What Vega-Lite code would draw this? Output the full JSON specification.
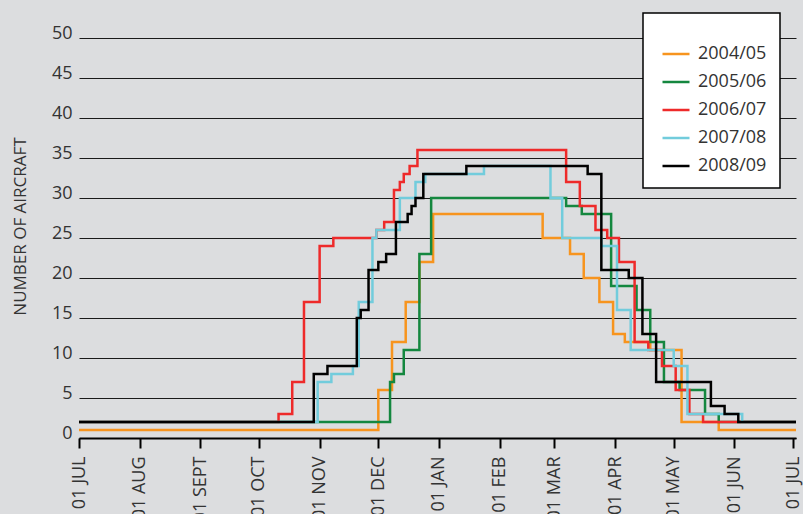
{
  "$schema": "https://vega.github.io/schema/vega-lite/v6.json",
  "width": 717,
  "height": 400,
  "autosize": {"type": "none"},
  "padding": {"left": 79, "top": 38, "right": 7, "bottom": 76},
  "background": "#dcdddf",
  "config": {
    "font": "Open Sans",
    "view": {"stroke": null},
    "legend": {"strokeWidth": 1.5}
  },
  "datasets": {
    "seasons": [
      {"season": "2004/05", "date": "2008-07-01", "n": 1},
      {"season": "2004/05", "date": "2008-12-01", "n": 6},
      {"season": "2004/05", "date": "2008-12-08", "n": 12},
      {"season": "2004/05", "date": "2008-12-15", "n": 17},
      {"season": "2004/05", "date": "2008-12-22", "n": 22},
      {"season": "2004/05", "date": "2008-12-29", "n": 28},
      {"season": "2004/05", "date": "2009-02-23", "n": 25},
      {"season": "2004/05", "date": "2009-03-09", "n": 23},
      {"season": "2004/05", "date": "2009-03-16", "n": 20},
      {"season": "2004/05", "date": "2009-03-24", "n": 17},
      {"season": "2004/05", "date": "2009-03-31", "n": 13},
      {"season": "2004/05", "date": "2009-04-06", "n": 12},
      {"season": "2004/05", "date": "2009-04-19", "n": 11},
      {"season": "2004/05", "date": "2009-05-05", "n": 2},
      {"season": "2004/05", "date": "2009-05-24", "n": 1},
      {"season": "2004/05", "date": "2009-07-02T12:00:00Z", "n": 1},

      {"season": "2005/06", "date": "2008-07-01", "n": 2},
      {"season": "2005/06", "date": "2008-12-07", "n": 7},
      {"season": "2005/06", "date": "2008-12-09", "n": 8},
      {"season": "2005/06", "date": "2008-12-14", "n": 11},
      {"season": "2005/06", "date": "2008-12-22", "n": 23},
      {"season": "2005/06", "date": "2008-12-28", "n": 30},
      {"season": "2005/06", "date": "2009-03-07", "n": 29},
      {"season": "2005/06", "date": "2009-03-15", "n": 28},
      {"season": "2005/06", "date": "2009-03-30", "n": 19},
      {"season": "2005/06", "date": "2009-04-12", "n": 16},
      {"season": "2005/06", "date": "2009-04-19", "n": 12},
      {"season": "2005/06", "date": "2009-04-26", "n": 7},
      {"season": "2005/06", "date": "2009-05-04", "n": 6},
      {"season": "2005/06", "date": "2009-05-17", "n": 3},
      {"season": "2005/06", "date": "2009-05-24", "n": 2},
      {"season": "2005/06", "date": "2009-07-02T12:00:00Z", "n": 2},

      {"season": "2006/07", "date": "2008-07-01", "n": 2},
      {"season": "2006/07", "date": "2008-10-11", "n": 3},
      {"season": "2006/07", "date": "2008-10-18", "n": 7},
      {"season": "2006/07", "date": "2008-10-24", "n": 17},
      {"season": "2006/07", "date": "2008-11-01", "n": 24},
      {"season": "2006/07", "date": "2008-11-08", "n": 25},
      {"season": "2006/07", "date": "2008-11-30", "n": 26},
      {"season": "2006/07", "date": "2008-12-04", "n": 27},
      {"season": "2006/07", "date": "2008-12-09", "n": 31},
      {"season": "2006/07", "date": "2008-12-12", "n": 32},
      {"season": "2006/07", "date": "2008-12-14", "n": 33},
      {"season": "2006/07", "date": "2008-12-17", "n": 34},
      {"season": "2006/07", "date": "2008-12-21", "n": 36},
      {"season": "2006/07", "date": "2009-03-07", "n": 32},
      {"season": "2006/07", "date": "2009-03-14", "n": 29},
      {"season": "2006/07", "date": "2009-03-22", "n": 26},
      {"season": "2006/07", "date": "2009-03-28", "n": 25},
      {"season": "2006/07", "date": "2009-04-03", "n": 22},
      {"season": "2006/07", "date": "2009-04-11", "n": 12},
      {"season": "2006/07", "date": "2009-04-18", "n": 11},
      {"season": "2006/07", "date": "2009-04-25", "n": 9},
      {"season": "2006/07", "date": "2009-05-02", "n": 6},
      {"season": "2006/07", "date": "2009-05-09", "n": 3},
      {"season": "2006/07", "date": "2009-05-16", "n": 2},
      {"season": "2006/07", "date": "2009-07-02T12:00:00Z", "n": 2},

      {"season": "2007/08", "date": "2008-07-01", "n": 2},
      {"season": "2007/08", "date": "2008-10-31", "n": 7},
      {"season": "2007/08", "date": "2008-11-07", "n": 8},
      {"season": "2007/08", "date": "2008-11-18", "n": 9},
      {"season": "2007/08", "date": "2008-11-21", "n": 17},
      {"season": "2007/08", "date": "2008-11-28", "n": 25},
      {"season": "2007/08", "date": "2008-11-30", "n": 26},
      {"season": "2007/08", "date": "2008-12-12", "n": 30},
      {"season": "2007/08", "date": "2008-12-20", "n": 32},
      {"season": "2007/08", "date": "2008-12-25", "n": 33},
      {"season": "2007/08", "date": "2009-01-24", "n": 34},
      {"season": "2007/08", "date": "2009-02-27", "n": 30},
      {"season": "2007/08", "date": "2009-03-05", "n": 25},
      {"season": "2007/08", "date": "2009-03-25", "n": 24},
      {"season": "2007/08", "date": "2009-04-02", "n": 16},
      {"season": "2007/08", "date": "2009-04-09", "n": 11},
      {"season": "2007/08", "date": "2009-05-01", "n": 9},
      {"season": "2007/08", "date": "2009-05-08", "n": 3},
      {"season": "2007/08", "date": "2009-06-05", "n": 2},
      {"season": "2007/08", "date": "2009-07-02T12:00:00Z", "n": 2},

      {"season": "2008/09", "date": "2008-07-01", "n": 2},
      {"season": "2008/09", "date": "2008-10-29", "n": 8},
      {"season": "2008/09", "date": "2008-11-05", "n": 9},
      {"season": "2008/09", "date": "2008-11-20", "n": 15},
      {"season": "2008/09", "date": "2008-11-22", "n": 16},
      {"season": "2008/09", "date": "2008-11-26", "n": 21},
      {"season": "2008/09", "date": "2008-12-01", "n": 22},
      {"season": "2008/09", "date": "2008-12-05", "n": 23},
      {"season": "2008/09", "date": "2008-12-10", "n": 27},
      {"season": "2008/09", "date": "2008-12-16", "n": 28},
      {"season": "2008/09", "date": "2008-12-18", "n": 29},
      {"season": "2008/09", "date": "2008-12-20", "n": 30},
      {"season": "2008/09", "date": "2008-12-24", "n": 33},
      {"season": "2008/09", "date": "2009-01-15", "n": 34},
      {"season": "2008/09", "date": "2009-03-18", "n": 33},
      {"season": "2008/09", "date": "2009-03-25", "n": 21},
      {"season": "2008/09", "date": "2009-04-08", "n": 20},
      {"season": "2008/09", "date": "2009-04-15", "n": 13},
      {"season": "2008/09", "date": "2009-04-22", "n": 7},
      {"season": "2008/09", "date": "2009-05-20", "n": 4},
      {"season": "2008/09", "date": "2009-05-27", "n": 3},
      {"season": "2008/09", "date": "2009-06-03", "n": 2},
      {"season": "2008/09", "date": "2009-07-02T12:00:00Z", "n": 2}
    ]
  },
  "data": {"name": "seasons"},
  "mark": {"type": "line", "interpolate": "step-after", "strokeWidth": 2.5, "clip": true},
  "encoding": {
    "x": {
      "field": "date",
      "type": "temporal",
      "scale": {
        "type": "utc",
        "domain": [
          {"year": 2008, "month": 7, "date": 1, "utc": true},
          {"year": 2009, "month": 7, "date": 2, "hours": 12, "utc": true}
        ]
      },
      "axis": {
        "title": null,
        "values": [
          {"year": 2008, "month": 7, "date": 1, "utc": true},
          {"year": 2008, "month": 8, "date": 1, "utc": true},
          {"year": 2008, "month": 9, "date": 1, "utc": true},
          {"year": 2008, "month": 10, "date": 1, "utc": true},
          {"year": 2008, "month": 11, "date": 1, "utc": true},
          {"year": 2008, "month": 12, "date": 1, "utc": true},
          {"year": 2009, "month": 1, "date": 1, "utc": true},
          {"year": 2009, "month": 2, "date": 1, "utc": true},
          {"year": 2009, "month": 3, "date": 1, "utc": true},
          {"year": 2009, "month": 4, "date": 1, "utc": true},
          {"year": 2009, "month": 5, "date": 1, "utc": true},
          {"year": 2009, "month": 6, "date": 1, "utc": true},
          {"year": 2009, "month": 7, "date": 1, "utc": true}
        ],
        "labelExpr": "utcmonth(datum.value) == 8 ? '01 SEPT' : upper(utcFormat(datum.value, '%d %b'))",
        "labelAngle": 270,
        "labelFontSize": 18,
        "labelColor": "#333333",
        "labelPadding": 8,
        "labelOverlap": false,
        "labelBound": false,
        "labelFlush": false,
        "grid": false,
        "domain": true,
        "domainColor": "#000000",
        "domainWidth": 2,
        "ticks": true,
        "tickColor": "#000000",
        "tickWidth": 2,
        "tickSize": 10
      }
    },
    "y": {
      "field": "n",
      "type": "quantitative",
      "scale": {"domain": [0, 50], "nice": false, "zero": true},
      "axis": {
        "title": "NUMBER OF AIRCRAFT",
        "titleFontSize": 17,
        "titleFontWeight": "normal",
        "titleColor": "#333333",
        "titleX": -59,
        "titleY": 188,
        "titleAngle": 270,
        "titleAlign": "center",
        "titleBaseline": "middle",
        "values": [0, 5, 10, 15, 20, 25, 30, 35, 40, 45, 50],
        "labelFontSize": 18,
        "labelColor": "#333333",
        "labelBaseline": "alphabetic",
        "labelPadding": 7,
        "ticks": false,
        "tickSize": 0,
        "domain": false,
        "grid": true,
        "gridColor": "#1a1a1a",
        "gridWidth": 1
      }
    },
    "color": {
      "field": "season",
      "type": "nominal",
      "scale": {
        "domain": ["2004/05", "2005/06", "2006/07", "2007/08", "2008/09"],
        "range": ["#f7941e", "#14873f", "#ee2a2a", "#72ccdc", "#000000"]
      },
      "legend": {
        "orient": "none",
        "legendX": 564,
        "legendY": -25,
        "title": "\u00a0",
        "titleFontSize": 12,
        "titlePadding": 1,
        "padding": 13,
        "fillColor": "#ffffff",
        "strokeColor": "#000000",
        "symbolType": "stroke",
        "symbolSize": 729,
        "symbolStrokeWidth": 2.5,
        "symbolOffset": 5,
        "labelOffset": 7,
        "labelFontSize": 18,
        "labelColor": "#333333",
        "rowPadding": 4
      }
    }
  }
}
